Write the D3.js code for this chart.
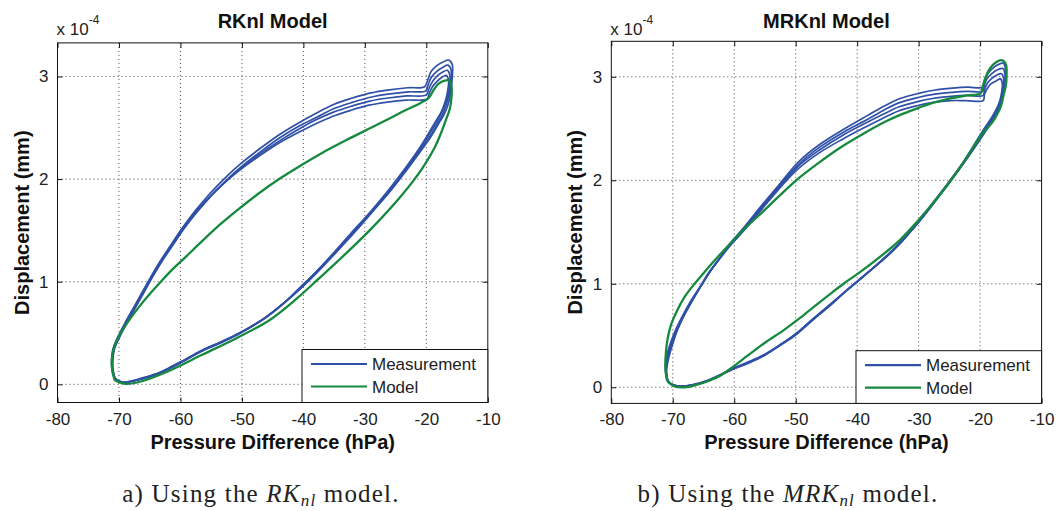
<!DOCTYPE html>
<html><head><meta charset="utf-8">
<script src="https://cdn.jsdelivr.net/npm/d3@7"></script>
<style>body{margin:0;background:#fff}svg{display:block}</style>
</head><body>
<svg id="c" width="1057" height="511"></svg>
<script>
const xTicks = [-80,-70,-60,-50,-40,-30,-20,-10];
const yTicks = [0,1,2,3];
const titles = ["RKnl Model","MRKnl Model"];
const seriesNames = ["Measurement","Model"];
const captions = [["a) Using the ","RK","nl"," model."],["b) Using the ","MRK","nl"," model."]];

// ---- Left panel (RKnl): measured loops, displacement in 1e-4 mm ----
const leftMeas1 = [[-70.6,0.05],[-71.0,0.15],[-70.9,0.32],[-70.0,0.46],[-68.8,0.61],[-67.4,0.76],[-66.0,0.91],[-64.6,1.06],[-63.1,1.21],[-61.4,1.37],[-59.6,1.53],[-57.6,1.69],[-55.2,1.86],[-52.6,2.02],[-50.0,2.16],[-47.0,2.30],[-44.0,2.43],[-41.0,2.54],[-38.0,2.64],[-35.0,2.73],[-32.0,2.79],[-29.0,2.84],[-26.0,2.87],[-23.0,2.89],[-20.3,2.90],[-19.8,2.96],[-19.3,3.04],[-18.4,3.10],[-17.3,3.14],[-16.4,3.16],[-15.8,3.12],[-15.8,2.98],[-16.0,2.85],[-16.5,2.72],[-17.2,2.62],[-17.8,2.56],[-19.4,2.40],[-21.2,2.25],[-23.3,2.08],[-25.9,1.88],[-28.8,1.68],[-31.4,1.50],[-34.3,1.31],[-37.6,1.10],[-40.0,0.96],[-42.6,0.82],[-46.0,0.66],[-49.8,0.52],[-53.0,0.42],[-56.4,0.33],[-59.0,0.25],[-61.9,0.16],[-64.0,0.10],[-66.3,0.06],[-68.0,0.03],[-69.0,0.02],[-70.0,0.03],[-70.6,0.05]];
const leftMeas2 = [[-70.7,0.06],[-71.0,0.16],[-70.8,0.33],[-69.9,0.46],[-68.7,0.60],[-67.3,0.75],[-65.9,0.90],[-64.5,1.05],[-63.0,1.20],[-61.3,1.35],[-59.5,1.51],[-57.5,1.67],[-55.1,1.83],[-52.5,1.99],[-49.9,2.13],[-46.9,2.27],[-43.9,2.40],[-40.9,2.51],[-37.9,2.60],[-34.9,2.69],[-31.9,2.75],[-28.9,2.80],[-25.9,2.83],[-22.9,2.85],[-20.1,2.86],[-19.7,2.92],[-19.2,2.99],[-18.3,3.05],[-17.3,3.09],[-16.5,3.11],[-16.0,3.07],[-16.0,2.95],[-16.3,2.82],[-16.9,2.70],[-17.6,2.60],[-18.2,2.54],[-19.8,2.38],[-21.6,2.23],[-23.7,2.06],[-26.3,1.86],[-29.1,1.66],[-31.7,1.49],[-34.6,1.30],[-37.8,1.09],[-40.2,0.95],[-42.8,0.81],[-46.2,0.65],[-50.0,0.51],[-53.2,0.41],[-56.6,0.32],[-59.2,0.24],[-62.0,0.15],[-64.1,0.10],[-66.4,0.05],[-68.1,0.03],[-69.1,0.02],[-70.1,0.03],[-70.7,0.06]];
const leftMeas3 = [[-70.8,0.07],[-71.1,0.17],[-70.9,0.33],[-70.1,0.45],[-68.9,0.59],[-67.5,0.74],[-66.1,0.89],[-64.7,1.04],[-63.2,1.19],[-61.5,1.34],[-59.7,1.50],[-57.7,1.65],[-55.3,1.82],[-52.7,1.97],[-50.2,2.10],[-47.2,2.24],[-44.2,2.36],[-41.2,2.47],[-38.2,2.57],[-35.2,2.65],[-32.2,2.71],[-29.2,2.76],[-26.2,2.79],[-23.2,2.81],[-20.0,2.82],[-19.6,2.88],[-19.1,2.94],[-18.3,3.00],[-17.4,3.04],[-16.6,3.06],[-16.2,3.02],[-16.2,2.91],[-16.6,2.79],[-17.3,2.68],[-18.0,2.59],[-18.6,2.53],[-20.2,2.37],[-22.0,2.21],[-24.1,2.04],[-26.6,1.85],[-29.4,1.65],[-32.0,1.48],[-34.8,1.29],[-38.0,1.09],[-40.4,0.95],[-43.0,0.80],[-46.4,0.64],[-50.2,0.50],[-53.4,0.41],[-56.7,0.32],[-59.3,0.23],[-62.1,0.15],[-64.2,0.09],[-66.5,0.05],[-68.2,0.03],[-69.2,0.02],[-70.2,0.04],[-70.8,0.07]];
const leftMeas4 = [[-70.9,0.08],[-71.2,0.18],[-71.0,0.34],[-70.2,0.46],[-69.0,0.60],[-67.6,0.75],[-66.2,0.90],[-64.8,1.05],[-63.3,1.20],[-61.6,1.35],[-59.8,1.51],[-57.8,1.66],[-55.4,1.82],[-52.8,1.97],[-50.3,2.09],[-47.3,2.22],[-44.3,2.34],[-41.3,2.44],[-38.3,2.53],[-35.3,2.61],[-32.3,2.67],[-29.3,2.72],[-26.3,2.75],[-23.3,2.77],[-19.9,2.78],[-19.5,2.84],[-19.0,2.90],[-18.3,2.95],[-17.5,2.99],[-16.8,3.01],[-16.4,2.97],[-16.5,2.87],[-16.9,2.76],[-17.6,2.65],[-18.4,2.57],[-19.0,2.51],[-20.6,2.35],[-22.4,2.19],[-24.5,2.02],[-27.0,1.83],[-29.7,1.64],[-32.3,1.47],[-35.1,1.28],[-38.2,1.08],[-40.6,0.94],[-43.2,0.79],[-46.6,0.63],[-50.4,0.50],[-53.6,0.41],[-56.9,0.32],[-59.5,0.23],[-62.2,0.14],[-64.3,0.09],[-66.6,0.05],[-68.3,0.02],[-69.3,0.02],[-70.3,0.04],[-70.9,0.08]];
const leftModel = [[-70.7,0.04],[-71.1,0.14],[-71.1,0.28],[-70.7,0.38],[-69.7,0.50],[-68.4,0.62],[-66.8,0.75],[-65.0,0.88],[-63.2,1.00],[-61.3,1.12],[-59.0,1.25],[-56.4,1.40],[-53.5,1.56],[-50.9,1.69],[-47.5,1.85],[-43.7,2.01],[-40.5,2.13],[-37.1,2.25],[-33.0,2.38],[-29.0,2.50],[-26.0,2.59],[-23.4,2.67],[-21.0,2.74],[-19.6,2.79],[-18.9,2.86],[-18.0,2.93],[-17.0,2.96],[-16.3,2.96],[-15.9,2.90],[-15.9,2.80],[-16.2,2.68],[-16.8,2.58],[-17.6,2.45],[-18.7,2.30],[-20.6,2.11],[-23.9,1.85],[-28.9,1.52],[-34.4,1.20],[-37.5,1.03],[-41.0,0.84],[-45.4,0.63],[-50.9,0.45],[-56.4,0.29],[-61.9,0.13],[-66.3,0.03],[-69.0,0.005],[-70.7,0.04]];

// ---- Right panel (MRKnl) ----
const rightMeas1 = [[-70.8,0.06],[-71.0,0.16],[-70.6,0.30],[-70.0,0.42],[-69.2,0.56],[-68.2,0.69],[-67.0,0.82],[-65.4,0.98],[-63.7,1.14],[-62.6,1.23],[-60.5,1.40],[-58.2,1.56],[-55.5,1.76],[-52.8,1.95],[-49.5,2.18],[-46.0,2.35],[-42.0,2.50],[-38.5,2.62],[-35.5,2.72],[-33.0,2.79],[-30.0,2.84],[-27.5,2.87],[-24.5,2.89],[-22.0,2.90],[-19.6,2.90],[-19.3,2.96],[-18.9,3.02],[-18.0,3.08],[-17.0,3.12],[-16.2,3.13],[-15.9,3.08],[-15.9,2.96],[-16.2,2.84],[-16.8,2.72],[-17.5,2.62],[-18.2,2.56],[-19.7,2.42],[-22.0,2.22],[-24.8,1.99],[-27.5,1.78],[-30.2,1.58],[-33.0,1.40],[-35.2,1.27],[-38.4,1.10],[-41.0,0.97],[-44.0,0.82],[-47.0,0.67],[-49.5,0.54],[-52.0,0.43],[-55.0,0.32],[-57.5,0.25],[-60.4,0.18],[-62.3,0.12],[-64.2,0.07],[-66.5,0.03],[-68.6,0.01],[-70.2,0.03],[-70.8,0.06]];
const rightMeas2 = [[-70.9,0.07],[-71.1,0.17],[-70.7,0.31],[-70.1,0.43],[-69.3,0.55],[-68.3,0.68],[-67.1,0.81],[-65.5,0.97],[-63.8,1.13],[-62.7,1.22],[-60.6,1.38],[-58.3,1.54],[-55.6,1.74],[-52.9,1.93],[-49.6,2.15],[-46.1,2.32],[-42.1,2.47],[-38.6,2.58],[-35.6,2.68],[-33.1,2.75],[-30.1,2.80],[-27.6,2.83],[-24.6,2.85],[-22.1,2.86],[-19.6,2.86],[-19.3,2.92],[-18.9,2.98],[-18.1,3.03],[-17.1,3.07],[-16.3,3.08],[-16.0,3.04],[-16.0,2.93],[-16.4,2.81],[-17.0,2.70],[-17.8,2.61],[-18.5,2.55],[-20.0,2.41],[-22.2,2.21],[-25.0,1.98],[-27.7,1.77],[-30.4,1.57],[-33.1,1.39],[-35.4,1.26],[-38.6,1.09],[-41.2,0.96],[-44.2,0.81],[-47.2,0.66],[-49.7,0.53],[-52.2,0.42],[-55.1,0.31],[-57.6,0.24],[-60.5,0.17],[-62.4,0.11],[-64.3,0.06],[-66.6,0.02],[-68.7,0.01],[-70.3,0.03],[-70.9,0.07]];
const rightMeas3 = [[-70.9,0.08],[-71.1,0.18],[-70.8,0.31],[-70.2,0.43],[-69.4,0.55],[-68.4,0.67],[-67.2,0.80],[-65.6,0.96],[-63.9,1.12],[-62.8,1.21],[-60.7,1.37],[-58.4,1.52],[-55.7,1.72],[-53.0,1.91],[-49.7,2.13],[-46.2,2.29],[-42.2,2.44],[-38.7,2.55],[-35.7,2.64],[-33.2,2.71],[-30.2,2.76],[-27.7,2.79],[-24.7,2.81],[-22.2,2.82],[-19.5,2.82],[-19.3,2.87],[-18.9,2.93],[-18.2,2.98],[-17.2,3.02],[-16.5,3.03],[-16.2,2.99],[-16.2,2.89],[-16.6,2.78],[-17.3,2.68],[-18.1,2.60],[-18.8,2.54],[-20.3,2.40],[-22.4,2.20],[-25.2,1.97],[-27.9,1.76],[-30.5,1.56],[-33.2,1.38],[-35.5,1.25],[-38.7,1.09],[-41.3,0.96],[-44.3,0.80],[-47.3,0.65],[-49.8,0.52],[-52.3,0.42],[-55.2,0.31],[-57.7,0.24],[-60.6,0.17],[-62.5,0.11],[-64.4,0.06],[-66.7,0.02],[-68.8,0.01],[-70.4,0.04],[-70.9,0.08]];
const rightMeas4 = [[-71.0,0.08],[-71.2,0.18],[-70.9,0.32],[-70.3,0.44],[-69.5,0.56],[-68.5,0.68],[-67.3,0.81],[-65.7,0.96],[-64.0,1.12],[-62.9,1.20],[-60.8,1.36],[-58.5,1.51],[-55.8,1.70],[-53.1,1.89],[-49.8,2.10],[-46.3,2.26],[-42.3,2.40],[-38.8,2.51],[-35.8,2.60],[-33.3,2.67],[-30.3,2.72],[-27.8,2.75],[-24.8,2.77],[-22.3,2.77],[-19.5,2.77],[-19.3,2.83],[-18.9,2.88],[-18.3,2.93],[-17.4,2.96],[-16.7,2.98],[-16.4,2.94],[-16.5,2.85],[-16.9,2.75],[-17.6,2.66],[-18.4,2.58],[-19.1,2.52],[-20.6,2.38],[-22.6,2.19],[-25.4,1.96],[-28.1,1.75],[-30.7,1.55],[-33.3,1.37],[-35.6,1.24],[-38.8,1.08],[-41.4,0.95],[-44.4,0.79],[-47.4,0.64],[-49.9,0.51],[-52.4,0.41],[-55.3,0.30],[-57.8,0.23],[-60.7,0.16],[-62.6,0.11],[-64.5,0.06],[-66.8,0.02],[-68.9,0.01],[-70.5,0.04],[-71.0,0.08]];
const rightModel = [[-70.9,0.06],[-71.2,0.18],[-71.1,0.35],[-70.8,0.48],[-70.25,0.61],[-69.3,0.74],[-68.1,0.87],[-66.6,0.99],[-64.6,1.13],[-62.5,1.27],[-60.0,1.43],[-58.0,1.55],[-56.0,1.66],[-53.0,1.83],[-49.5,2.02],[-46.0,2.18],[-42.9,2.31],[-39.0,2.45],[-35.3,2.57],[-33.1,2.63],[-30.0,2.70],[-27.6,2.75],[-25.0,2.79],[-22.1,2.82],[-19.9,2.84],[-19.6,2.90],[-19.2,2.98],[-18.4,3.08],[-17.4,3.14],[-16.5,3.16],[-15.8,3.12],[-15.7,3.02],[-15.8,2.92],[-16.2,2.82],[-16.6,2.72],[-17.2,2.64],[-17.9,2.57],[-20.0,2.42],[-22.5,2.19],[-25.4,1.95],[-28.5,1.72],[-31.0,1.55],[-33.1,1.42],[-36.5,1.25],[-39.6,1.11],[-42.0,1.01],[-44.0,0.92],[-47.0,0.78],[-49.5,0.66],[-52.0,0.55],[-55.0,0.43],[-57.5,0.32],[-60.4,0.19],[-62.3,0.11],[-64.2,0.06],[-66.3,0.02],[-68.1,0.00],[-69.8,0.01],[-70.9,0.06]];

const BLUE = "#2f50a6", GREEN = "#15893d";
const panels = [
  {x0:57.5, x1:487.8, yb:402.5, yt:42.9, ydom:[-0.177,3.327], meas:[leftMeas1,leftMeas2,leftMeas3,leftMeas4], model:leftModel, title:titles[0], cap:captions[0], capX:261, leg:{x:302, y:349.5}},
  {x0:611.3, x1:1041.6, yb:403.4, yt:41.3, ydom:[-0.156,3.343], meas:[rightMeas1,rightMeas2,rightMeas3,rightMeas4], model:rightModel, title:titles[1], cap:captions[1], capX:788, leg:{x:856, y:350.7}}
];

const svg = d3.select("#c");
const SANS = "'Liberation Sans', Arial, Helvetica, sans-serif";

panels.forEach((p, i) => {
  const x = d3.scaleLinear().domain([-80,-10]).range([p.x0, p.x1]);
  const y = d3.scaleLinear().domain(p.ydom).range([p.yb, p.yt]);
  const g = svg.append("g");
  const clipId = "clip" + i;
  svg.append("clipPath").attr("id", clipId).append("rect")
    .attr("x", p.x0).attr("y", p.yt).attr("width", p.x1 - p.x0).attr("height", p.yb - p.yt);

  // grid
  g.append("g").selectAll("line").data(xTicks.slice(1, -1)).join("line")
    .attr("x1", d => x(d)).attr("x2", d => x(d)).attr("y1", p.yt).attr("y2", p.yb)
    .attr("stroke", "#333").attr("stroke-width", 0.9).attr("stroke-dasharray", "1,3");
  g.append("g").selectAll("line").data(yTicks).join("line")
    .attr("y1", d => y(d)).attr("y2", d => y(d)).attr("x1", p.x0).attr("x2", p.x1)
    .attr("stroke", "#333").attr("stroke-width", 0.9).attr("stroke-dasharray", "1,3");

  // axes (ticks inward)
  const TL = 5;
  const fmt = d => String(d);
  const axB = d3.axisBottom(x).tickValues(xTicks).tickSize(-TL).tickPadding(10).tickFormat(fmt);
  const axT = d3.axisTop(x).tickValues(xTicks).tickSize(-TL).tickFormat("");
  const axL = d3.axisLeft(y).tickValues(yTicks).tickSize(-TL).tickPadding(9).tickFormat(fmt);
  const axR = d3.axisRight(y).tickValues(yTicks).tickSize(-TL).tickFormat("");
  [[axB, `translate(0,${p.yb})`], [axT, `translate(0,${p.yt})`], [axL, `translate(${p.x0},0)`], [axR, `translate(${p.x1},0)`]]
    .forEach(([ax, tr]) => {
      const a = g.append("g").attr("transform", tr).call(ax);
      a.select(".domain").remove();
      a.selectAll(".tick line").attr("stroke", "#111");
      a.selectAll("text").attr("font-family", SANS).attr("font-size", 17).attr("fill", "#222");
    });

  // data
  const line = d3.line().x(d => x(d[0])).y(d => y(d[1])).curve(d3.curveCatmullRom.alpha(0.5));
  const dg = g.append("g").attr("clip-path", `url(#${clipId})`);
  dg.selectAll("path.meas").data(p.meas).join("path").attr("class", "meas")
    .attr("d", line).attr("fill", "none").attr("stroke", BLUE).attr("stroke-width", 1.7)
    .attr("stroke-linejoin", "round");
  dg.append("path").datum(p.model).attr("d", line).attr("fill", "none")
    .attr("stroke", GREEN).attr("stroke-width", 2.3).attr("stroke-linejoin", "round");

  // box
  g.append("rect").attr("x", p.x0).attr("y", p.yt).attr("width", p.x1 - p.x0).attr("height", p.yb - p.yt)
    .attr("fill", "none").attr("stroke", "#111").attr("stroke-width", 1);

  // legend
  const lg = g.append("g");
  lg.append("rect").attr("x", p.leg.x).attr("y", p.leg.y).attr("width", p.x1 - p.leg.x).attr("height", p.yb - p.leg.y)
    .attr("fill", "#fff").attr("stroke", "#111").attr("stroke-width", 1);
  [BLUE, GREEN].forEach((c, k) => {
    const yy = p.leg.y + 14.5 + k * 22.5;
    lg.append("line").attr("x1", p.leg.x + 9).attr("x2", p.leg.x + 65).attr("y1", yy).attr("y2", yy)
      .attr("stroke", c).attr("stroke-width", 2.2);
    lg.append("text").attr("x", p.leg.x + 70).attr("y", yy + 6).text(seriesNames[k])
      .attr("font-family", SANS).attr("font-size", 17).attr("fill", "#222");
  });

  // title
  g.append("text").attr("x", (p.x0 + p.x1) / 2).attr("y", 28).attr("text-anchor", "middle")
    .attr("font-family", SANS).attr("font-weight", "bold").attr("font-size", 20).attr("fill", "#111").text(p.title);
  // exponent
  const ex = g.append("text").attr("x", p.x0 - 1).attr("y", 35).attr("font-family", SANS).attr("font-size", 17).attr("fill", "#222");
  ex.append("tspan").text("x 10");
  ex.append("tspan").attr("dy", -11).attr("font-size", 12).text("-4");
  // axis labels
  g.append("text").attr("x", (p.x0 + p.x1) / 2).attr("y", 449).attr("text-anchor", "middle")
    .attr("font-family", SANS).attr("font-weight", "bold").attr("font-size", 20).attr("fill", "#111")
    .text("Pressure Difference (hPa)");
  g.append("text").attr("transform", `translate(${p.x0 - 29},${(p.yt + p.yb) / 2}) rotate(-90)`)
    .attr("text-anchor", "middle").attr("font-family", SANS).attr("font-weight", "bold").attr("font-size", 20).attr("fill", "#111")
    .text("Displacement (mm)");

  // caption
  const ct = g.append("text").attr("x", p.capX).attr("y", 502).attr("text-anchor", "middle")
    .attr("font-family", "'Liberation Serif', 'Times New Roman', serif").attr("font-size", 25)
    .attr("letter-spacing", "1.2px").attr("fill", "#222");
  ct.append("tspan").text(p.cap[0]);
  ct.append("tspan").attr("font-style", "italic").text(p.cap[1]);
  ct.append("tspan").attr("font-style", "italic").attr("font-size", 17).attr("dy", 4).text(p.cap[2]);
  ct.append("tspan").attr("dy", -4).text(p.cap[3]);
});
</script>
</body></html>
